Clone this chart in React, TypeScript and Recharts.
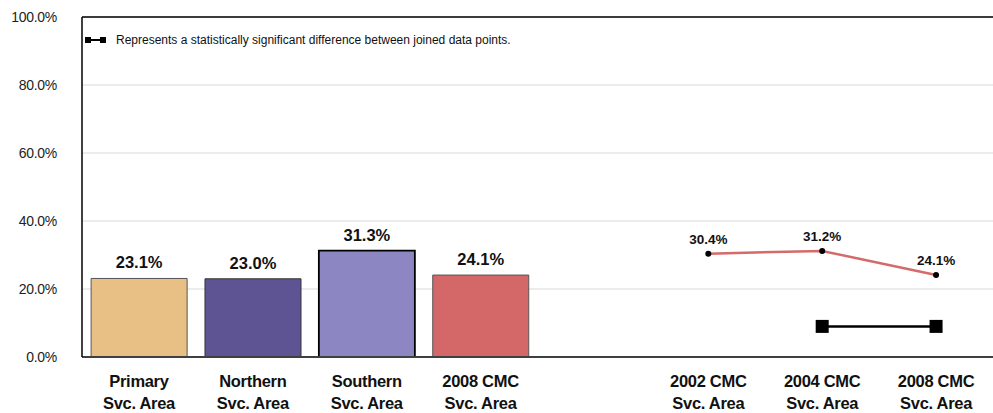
import React from "react";
import {
  ComposedChart,
  Bar,
  Line,
  XAxis,
  YAxis,
  CartesianGrid,
  LabelList,
  Cell,
  ReferenceLine,
} from "recharts";

// categories (slot 4 is an empty spacer between the two groups)
const catLine1 = ["Primary", "Northern", "Southern", "2008 CMC", "", "2002 CMC", "2004 CMC", "2008 CMC"];
const catLine2 = ["Svc. Area", "Svc. Area", "Svc. Area", "Svc. Area", "", "Svc. Area", "Svc. Area", "Svc. Area"];

// bar values (%)
const barValues = [23.1, 23.0, 31.3, 24.1, null, null, null, null];
const barColors = ["#E8C085", "#5E5494", "#8C87C2", "#D46767"];
const barStrokes = ["#555555", "#333333", "#000000", "#555555"];

// trend line values (%)
const trendValues = [null, null, null, null, null, 30.4, 31.2, 24.1];

// significance marker (joins 2004 and 2008)
const sigValues = [null, null, null, null, null, null, 9, 9];

const yTicks = [0, 20, 40, 60, 80, 100];

const data = catLine1.map((c, i) => ({
  key: `c${i}`,
  bar: barValues[i],
  trend: trendValues[i],
  sig: sigValues[i],
}));

const FONT = "'Liberation Sans', Arial, sans-serif";
const pct = (v: number) => `${Number(v).toFixed(1)}%`;

function CategoryTick({ x, y, payload }: any) {
  const i = Number(String(payload.value).slice(1));
  return (
    <g transform={`translate(${x},${y})`}>
      <text
        textAnchor="middle"
        fontFamily={FONT}
        fontWeight="bold"
        fontSize={16.5}
        fill="#111"
        style={{ letterSpacing: "-0.3px" }}
      >
        <tspan x={0} dy={22}>{catLine1[i]}</tspan>
        <tspan x={0} dy={22}>{catLine2[i]}</tspan>
      </text>
    </g>
  );
}

function SquareDot({ cx, cy, value }: any) {
  if (value == null || cx == null) return null;
  return <rect x={cx - 6.5} y={cy - 6.5} width={13} height={13} fill="#000" />;
}

function SigLegend() {
  return (
    <div
      style={{
        position: "absolute",
        left: 85,
        top: 33,
        display: "flex",
        alignItems: "center",
        fontFamily: FONT,
        fontSize: 12,
        color: "#111",
        whiteSpace: "nowrap",
      }}
    >
      <svg width={24} height={10} style={{ marginRight: 7 }}>
        <line x1={3} y1={5} x2={18} y2={5} stroke="#000" strokeWidth={2} />
        <rect x={0} y={2} width={6} height={6} fill="#000" />
        <rect x={15} y={2} width={6} height={6} fill="#000" />
      </svg>
      <span>Represents a statistically significant difference between joined data points.</span>
    </div>
  );
}

export default function App() {
  return (
    <div style={{ position: "fixed", left: 0, top: 0, width: 993, height: 413, background: "#fff" }}>
      <ComposedChart
        width={993}
        height={413}
        data={data}
        margin={{ top: 17, right: 0, bottom: 0, left: 0 }}
        barCategoryGap="8%"
      >
        <CartesianGrid stroke="#D9D9D9" vertical={false} />
        <XAxis
          dataKey="key"
          tick={<CategoryTick />}
          tickLine={false}
          axisLine={{ stroke: "#404040", strokeWidth: 2 }}
          interval={0}
          height={56}
        />
        <YAxis
          domain={[0, 100]}
          ticks={yTicks}
          tickFormatter={pct}
          tickLine={false}
          tickSize={0}
          tickMargin={25}
          width={82}
          axisLine={{ stroke: "#000", strokeWidth: 1.5 }}
          tick={{ fill: "#222", fontSize: 14, fontFamily: FONT, letterSpacing: "-0.3px" }}
        />
        <ReferenceLine y={100} stroke="#000" strokeWidth={1.5} />
        <Bar dataKey="bar" isAnimationActive={false}>
          {barColors.map((c, i) => (
            <Cell key={i} fill={c} stroke={barStrokes[i]} strokeWidth={i === 2 ? 1.8 : 1} />
          ))}
          <LabelList
            dataKey="bar"
            position="top"
            offset={10}
            formatter={(v: any) => (v == null ? "" : pct(v))}
            style={{ fontFamily: FONT, fontWeight: "bold", fontSize: 16.5, fill: "#111" }}
          />
        </Bar>
        <Line
          dataKey="trend"
          stroke="#D46A6A"
          strokeWidth={2.5}
          dot={{ r: 3, fill: "#000", stroke: "#000", strokeWidth: 0 }}
          activeDot={false}
          isAnimationActive={false}
        >
          <LabelList
            dataKey="trend"
            position="top"
            offset={10}
            formatter={(v: any) => (v == null ? "" : pct(v))}
            style={{ fontFamily: FONT, fontWeight: "bold", fontSize: 13.5, fill: "#111" }}
          />
        </Line>
        <Line
          dataKey="sig"
          stroke="#000"
          strokeWidth={2.5}
          dot={<SquareDot />}
          activeDot={false}
          isAnimationActive={false}
        />
      </ComposedChart>
      <SigLegend />
    </div>
  );
}
